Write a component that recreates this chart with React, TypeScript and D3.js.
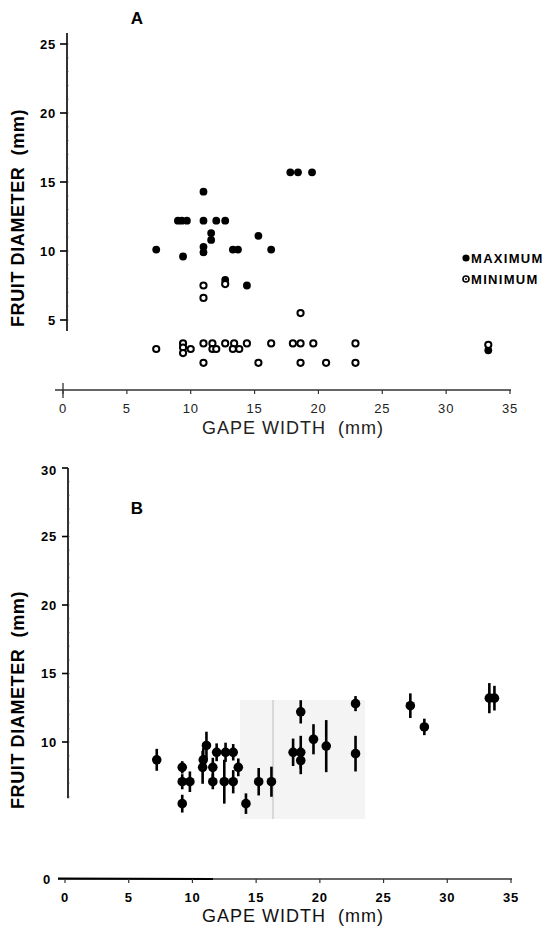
import React from 'react';
import * as d3 from 'd3';

// Panel A: maximum and minimum fruit diameter vs gape width
const maxGape = [7.3, 9.4, 9.0, 9.3, 9.7, 11.0, 12.0, 12.7, 11.0, 11.6, 11.6, 11.0, 11.0, 13.3, 13.7, 15.3, 16.3, 17.8, 18.4, 19.5, 12.7, 14.4, 33.3];
const maxDiam = [10.1, 9.6, 12.2, 12.2, 12.2, 12.2, 12.2, 12.2, 14.3, 11.3, 10.8, 10.3, 9.9, 10.1, 10.1, 11.1, 10.1, 15.7, 15.7, 15.7, 7.9, 7.5, 2.8];
const minGape = [7.3, 9.4, 9.4, 9.4, 10.0, 11.0, 11.0, 11.7, 11.7, 12.0, 12.7, 13.4, 13.3, 13.8, 14.4, 15.3, 16.3, 18.0, 18.6, 18.6, 18.6, 19.6, 20.6, 22.9, 22.9, 11.0, 11.0, 12.7, 33.3];
const minDiam = [2.9, 3.3, 3.0, 2.6, 2.9, 3.3, 1.9, 3.3, 2.9, 2.9, 3.3, 3.3, 2.9, 2.9, 3.3, 1.9, 3.3, 3.3, 3.3, 5.5, 1.9, 3.3, 1.9, 3.3, 1.9, 6.6, 7.5, 7.6, 3.2];

// Panel B: mean fruit diameter (+/- error) vs gape width
const gapeB = [7.2, 9.2, 9.2, 9.2, 9.8, 11.1, 10.85, 10.8, 11.6, 11.6, 11.9, 12.6, 12.5, 13.2, 13.2, 13.6, 14.2, 15.2, 16.2, 17.9, 18.5, 18.5, 18.5, 19.5, 20.5, 22.8, 22.8, 27.1, 28.2, 33.3, 33.7];
const diamB = [8.7, 8.15, 7.1, 5.5, 7.1, 9.75, 8.7, 8.15, 8.15, 7.1, 9.25, 9.25, 7.1, 9.25, 7.1, 8.15, 5.5, 7.1, 7.1, 9.25, 9.25, 8.65, 12.2, 10.2, 9.7, 12.8, 9.15, 12.65, 11.1, 13.2, 13.2];
const errB = [0.8, 0.45, 0.55, 0.65, 0.75, 1.0, 0.85, 1.2, 0.7, 0.55, 0.65, 0.7, 1.6, 0.6, 0.85, 0.65, 0.75, 1.0, 1.1, 1.0, 1.2, 1.0, 0.85, 1.1, 1.9, 0.55, 1.3, 0.9, 0.6, 1.1, 0.9];

const xTicks = [0, 5, 10, 15, 20, 25, 30, 35];
const yTicksA = [5, 10, 15, 20, 25];
const yTicksB = [0, 10, 15, 20, 25, 30];

const font = '"Liberation Sans", Arial, sans-serif';

const App = () => {
  const xA = d3.scaleLinear().domain([0, 35]).range([63, 510]);
  const yA = d3.scaleLinear().domain([0, 25]).range([389, 44]);
  const xB = d3.scaleLinear().domain([0, 35]).range([65, 511]);
  const yB = d3.scaleLinear().domain([0, 30]).range([879, 468]);

  const axA = 67;
  const axB = 68;

  return (
    <svg width={546} height={930} style={{ position: 'absolute', left: 0, top: 0, background: '#fff' }} fontFamily={font}>
      {/* ---------- panel A ---------- */}
      <text x={137} y={24} fontSize={17} fontWeight="bold" textAnchor="middle">A</text>
      <line x1={axA} x2={axA} y1={yA(25.8)} y2={yA(4.2)} stroke="#000" strokeWidth={1.6} />
      {d3.range(5, 26).map(v => (
        <line key={'ma' + v} x1={axA} x2={axA + 1.5} y1={yA(v)} y2={yA(v)} stroke="#444" strokeWidth={0.8} />
      ))}
      {yTicksA.map(t => (
        <g key={'ya' + t}>
          <line x1={axA - 7} x2={axA} y1={yA(t)} y2={yA(t)} stroke="#000" strokeWidth={1.6} />
          <text x={axA - 11} y={yA(t) + 4.5} fontSize={13} fontWeight="bold" textAnchor="end" letterSpacing={0.8}>{t}</text>
        </g>
      ))}
      <text transform={`translate(24,${218}) rotate(-90)`} fontSize={18} fontWeight="bold" textAnchor="middle" letterSpacing={0.6} style={{ whiteSpace: 'pre' }}>FRUIT DIAMETER  (mm)</text>
      <line x1={55} x2={511} y1={390} y2={390} stroke="#333" strokeWidth={1.3} />
      <line x1={xA(0)} x2={xA(0)} y1={383} y2={398} stroke="#333" strokeWidth={1.3} />
      {xTicks.map(t => (
        <g key={'xa' + t}>
          <line x1={xA(t)} x2={xA(t)} y1={390} y2={394} stroke="#333" strokeWidth={1.2} />
          <text x={xA(t)} y={413} fontSize={13} textAnchor="middle" letterSpacing={0.8} fill="#222">{t}</text>
        </g>
      ))}
      <text x={293} y={434} fontSize={18} textAnchor="middle" letterSpacing={1} fill="#222" style={{ whiteSpace: 'pre' }}>GAPE WIDTH  (mm)</text>

      {maxGape.map((g, i) => (
        <circle key={'mx' + i} cx={xA(g)} cy={yA(maxDiam[i])} r={3.9} fill="#000" />
      ))}
      {minGape.map((g, i) => (
        <circle key={'mn' + i} cx={xA(g)} cy={yA(minDiam[i])} r={3.1} fill="#fff" stroke="#000" strokeWidth={2} />
      ))}

      {/* legend */}
      <circle cx={466} cy={258} r={3.6} fill="#000" />
      <text x={471} y={263} fontSize={13} fontWeight="bold" letterSpacing={1.3}>MAXIMUM</text>
      <circle cx={466} cy={279} r={3} fill="#fff" stroke="#000" strokeWidth={1.6} />
      <circle cx={466} cy={279} r={0.9} fill="#000" />
      <text x={471} y={284} fontSize={13} fontWeight="bold" letterSpacing={1.3}>MINIMUM</text>

      {/* ---------- panel B ---------- */}
      <rect x={240} y={700} width={125} height={119} fill="#f4f4f4" />
      <line x1={273} x2={273} y1={700} y2={819} stroke="#bdbdbd" strokeWidth={1} />
      <text x={137} y={514} fontSize={17} fontWeight="bold" textAnchor="middle">B</text>
      <line x1={axB} x2={axB} y1={yB(30)} y2={yB(5.9)} stroke="#000" strokeWidth={1.6} />
      {d3.range(6, 30).map(v => (
        <line key={'mb' + v} x1={axB} x2={axB + 1.5} y1={yB(v)} y2={yB(v)} stroke="#444" strokeWidth={0.8} />
      ))}
      {yTicksB.map(t => (
        <g key={'yb' + t}>
          {t > 0 && <line x1={axB - 6} x2={axB} y1={yB(t)} y2={yB(t)} stroke="#000" strokeWidth={1.6} />}
          <text x={t === 0 ? axB - 17 : axB - 11} y={yB(t) + (t === 30 ? 7 : 4.5)} fontSize={13} fontWeight="bold" textAnchor="end" letterSpacing={0.8}>{t}</text>
        </g>
      ))}
      <text transform={`translate(24,${700}) rotate(-90)`} fontSize={18} fontWeight="bold" textAnchor="middle" letterSpacing={0.6} style={{ whiteSpace: 'pre' }}>FRUIT DIAMETER  (mm)</text>
      <line x1={58} x2={512} y1={879} y2={879} stroke="#333" strokeWidth={1.3} />
      <line x1={58} x2={213} y1={878.5} y2={879} stroke="#000" strokeWidth={2} />
      {xTicks.map(t => (
        <g key={'xb' + t}>
          <line x1={xB(t)} x2={xB(t)} y1={879} y2={883} stroke="#333" strokeWidth={1.2} />
          <text x={xB(t)} y={902} fontSize={13} fontWeight="bold" textAnchor="middle" letterSpacing={0.8}>{t}</text>
        </g>
      ))}
      <text x={293} y={922} fontSize={18} textAnchor="middle" letterSpacing={1} fill="#111" style={{ whiteSpace: 'pre' }}>GAPE WIDTH  (mm)</text>

      {gapeB.map((g, i) => (
        <line key={'eb' + i} x1={xB(g)} x2={xB(g)} y1={yB(diamB[i] - errB[i])} y2={yB(diamB[i] + errB[i])} stroke="#000" strokeWidth={2.6} />
      ))}
      {gapeB.map((g, i) => (
        <circle key={'pb' + i} cx={xB(g)} cy={yB(diamB[i])} r={4.8} fill="#000" />
      ))}
    </svg>
  );
};

export default App;
